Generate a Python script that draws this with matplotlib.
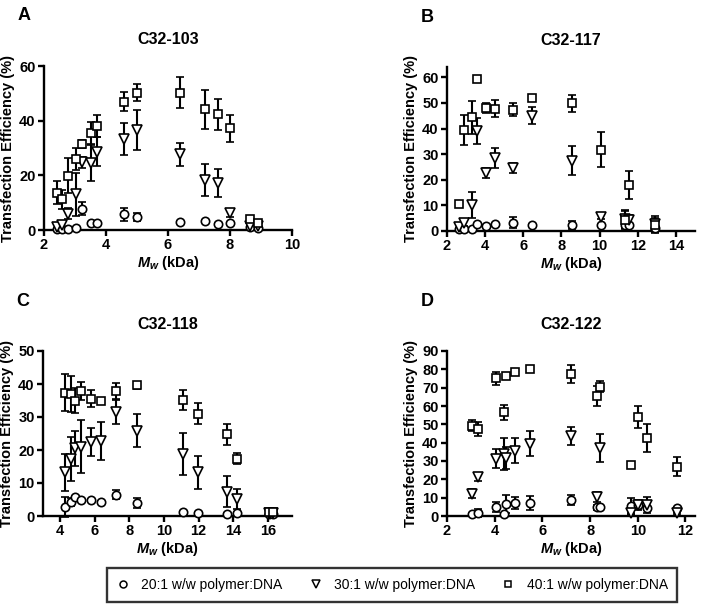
import matplotlib
matplotlib.use("Agg")
import matplotlib.pyplot as plt
from matplotlib.lines import Line2D
import numpy as np

plt.rcParams['font.family'] = ['Liberation Sans', 'DejaVu Sans']
plt.rcParams['mathtext.fontset'] = 'custom'
plt.rcParams['mathtext.it'] = 'Liberation Sans:italic:bold'
plt.rcParams['mathtext.rm'] = 'Liberation Sans:bold'

series_labels = ["20:1 w/w polymer:DNA", "30:1 w/w polymer:DNA", "40:1 w/w polymer:DNA"]

# Panel A: C32-103
a_x = [2.42, 2.59, 2.77, 3.02, 3.22, 3.53, 3.71, 4.58, 5.0, 6.4, 7.2, 7.62, 7.99, 8.66, 8.9]
a_20 = [0.3, 0.5, 0.5, 0.8, 7.8, 2.7, 2.4, 5.7, 4.8, 3.1, 3.4, 2.1, 2.4, 1.2, 0.9]
a_20e = [0.2, 0.2, 0.2, 0.3, 2.3, 0.3, 0.3, 2.5, 1.4, 0.3, 0.3, 0.3, 0.3, 0.3, 0.3]
a_30 = [1.2, 1.8, 6.0, 13.0, 24.8, 24.5, 28.7, 33.2, 36.6, 27.7, 18.3, 17.3, 6.3, 1.5, 1.5]
a_30e = [0.5, 1.0, 2.0, 8.0, 2.0, 6.5, 5.3, 5.8, 7.2, 4.3, 5.8, 5.2, 1.5, 0.5, 0.5]
a_40 = [13.7, 11.3, 19.9, 25.9, 31.5, 35.6, 38.0, 47.0, 50.2, 50.2, 44.1, 42.4, 37.2, 4.0, 2.7]
a_40e = [4.2, 3.5, 6.4, 4.0, 1.5, 4.0, 4.0, 3.4, 3.1, 5.6, 7.3, 5.7, 4.9, 1.0, 1.0]

# Panel B: C32-117
b_x = [2.64, 2.89, 3.3, 3.55, 4.05, 4.54, 5.48, 6.43, 8.56, 10.05, 11.34, 11.53, 12.9]
b_20 = [0.6, 0.8, 0.6, 2.6, 2.0, 2.6, 3.3, 2.3, 2.3, 2.3, 2.2, 2.3, 1.0]
b_20e = [0.2, 0.2, 0.2, 0.3, 0.3, 0.5, 2.3, 0.3, 1.5, 0.3, 0.3, 0.3, 0.5]
b_30 = [1.7, 3.3, 10.2, 39.0, 22.7, 28.4, 24.6, 45.0, 27.5, 5.6, 4.6, 4.3, 2.7]
b_30e = [0.5, 1.5, 5.0, 5.0, 2.0, 4.0, 2.0, 3.4, 5.5, 1.0, 3.5, 2.0, 3.0]
b_40 = [10.6, 39.3, 44.3, 59.4, 48.0, 47.8, 47.3, 51.9, 49.8, 31.8, 4.3, 18.0, 2.2]
b_40e = [1.0, 5.9, 6.6, 0.5, 2.0, 3.4, 2.5, 1.0, 3.2, 6.8, 3.5, 5.6, 3.0]

# Panel C: C32-118
c_x = [4.29, 4.62, 4.87, 5.18, 5.77, 6.35, 7.22, 8.44, 11.1, 11.99, 13.65, 14.24, 16.06, 16.3]
c_20 = [2.8, 4.3, 5.8, 4.8, 4.8, 4.3, 6.5, 4.0, 1.1, 0.8, 0.5, 0.8, 0.6, 0.7]
c_20e = [3.0, 1.3, 0.3, 0.3, 0.3, 0.3, 1.3, 1.5, 0.3, 0.3, 0.3, 0.3, 0.2, 0.2]
c_30 = [13.2, 17.2, 20.5, 21.0, 22.5, 22.7, 31.6, 25.8, 18.8, 13.2, 7.4, 5.1, 0.8, 0.8]
c_30e = [5.7, 6.6, 5.3, 8.0, 4.3, 5.8, 3.8, 5.0, 6.3, 5.1, 4.8, 3.1, 0.3, 0.3]
c_40 = [37.3, 36.9, 34.9, 37.9, 35.6, 34.9, 37.8, 39.6, 35.1, 31.0, 24.7, 17.4, 1.1, 1.1]
c_40e = [5.6, 5.5, 3.8, 2.7, 2.7, 0.5, 2.6, 1.0, 3.0, 3.2, 3.1, 1.7, 0.3, 0.3]

# Panel D: C32-122
d_x = [3.03, 3.31, 4.06, 4.38, 4.48, 4.86, 5.46, 7.18, 8.3, 8.42, 9.7, 10.03, 10.37, 11.65]
d_20 = [0.9, 1.6, 4.9, 0.9, 6.3, 7.1, 7.1, 8.9, 4.7, 4.7, 5.6, 6.0, 4.2, 4.5]
d_20e = [0.5, 2.4, 2.7, 0.5, 4.9, 3.4, 3.9, 2.8, 1.5, 1.5, 4.3, 1.5, 1.0, 0.5]
d_30 = [12.1, 21.2, 31.2, 33.9, 31.7, 35.7, 39.3, 43.8, 10.2, 36.9, 1.5, 6.0, 6.0, 1.5]
d_30e = [2.5, 2.2, 5.2, 8.6, 5.9, 6.8, 6.8, 4.8, 2.8, 7.7, 0.5, 2.5, 4.3, 0.5]
d_40 = [49.1, 47.5, 75.2, 56.5, 76.6, 78.8, 80.1, 77.4, 65.5, 70.5, 27.8, 54.2, 42.7, 26.9]
d_40e = [3.0, 4.0, 3.5, 4.2, 1.2, 1.0, 0.8, 4.9, 5.5, 3.0, 1.5, 6.0, 7.7, 5.2]

panels = [
    dict(letter="A", title="C32-103", x=a_x, ys=[(a_20, a_20e), (a_30, a_30e), (a_40, a_40e)],
         xlim=(2, 10), xticks=[2, 4, 6, 8, 10], ylim=(0, 60), yticks=[0, 20, 40, 60],
         rect=(44, 230, 292, 66)),
    dict(letter="B", title="C32-117", x=b_x, ys=[(b_20, b_20e), (b_30, b_30e), (b_40, b_40e)],
         xlim=(2, 15), xticks=[2, 4, 6, 8, 10, 12, 14], ylim=(0, 64), yticks=[0, 10, 20, 30, 40, 50, 60],
         rect=(447, 231, 695, 67)),
    dict(letter="C", title="C32-118", x=c_x, ys=[(c_20, c_20e), (c_30, c_30e), (c_40, c_40e)],
         xlim=(3, 17.4), xticks=[4, 6, 8, 10, 12, 14, 16], ylim=(0, 50), yticks=[0, 10, 20, 30, 40, 50],
         rect=(43, 516, 292, 351)),
    dict(letter="D", title="C32-122", x=d_x, ys=[(d_20, d_20e), (d_30, d_30e), (d_40, d_40e)],
         xlim=(2, 12.4), xticks=[2, 4, 6, 8, 10, 12], ylim=(0, 90), yticks=list(range(0, 91, 10)),
         rect=(447, 516, 695, 351)),
]

markers = ['o', 'v', 's']
W, H = 704, 611
fig = plt.figure(figsize=(W / 100, H / 100), dpi=100)

for p in panels:
    l, b, r, t = p["rect"]
    ax = fig.add_axes([l / W, 1 - b / H, (r - l) / W, (b - t) / H])
    for (y, e), m in zip(p["ys"], markers):
        ax.errorbar(p["x"], y, yerr=e, fmt=m, ms=6 if m != 'v' else 6.5,
                    mfc='white', mec='black', mew=1.2, ecolor='black',
                    elinewidth=1.5, capsize=3.2, capthick=1.5, clip_on=False, zorder=3)
    ax.set_xlim(*p["xlim"])
    ax.set_ylim(*p["ylim"])
    ax.set_xticks(p["xticks"])
    ax.set_yticks(p["yticks"])
    for s in ['top', 'right']:
        ax.spines[s].set_visible(False)
    for s in ['left', 'bottom']:
        ax.spines[s].set_linewidth(1.7)
    ax.tick_params(direction='out', width=1.7, length=4, labelsize=10.5, pad=2)
    for lab in ax.get_xticklabels() + ax.get_yticklabels():
        lab.set_fontweight('bold')
    ax.set_xlabel(r"$M_w$ (kDa)", fontsize=10.5, fontweight='bold', labelpad=1)
    ax.set_ylabel("Transfection Efficiency (%)", fontsize=10.5, fontweight='bold', labelpad=3)
    ax.set_title(p["title"], fontsize=11.5, fontweight='bold', pad=16)
    fig.text((l - 20) / W, 1 - (t - 50) / H, p["letter"], fontsize=13, fontweight='bold',
             ha='center', va='center')

handles = [Line2D([], [], ls='none', marker=m, ms=5 if m != 'v' else 5.5, mfc='white', mec='black', mew=1.1)
           for m in markers]
leg = fig.legend(handles, series_labels, loc='center', bbox_to_anchor=(392 / W, 1 - 585 / H),
                 ncol=3, fontsize=10, frameon=True, fancybox=False, edgecolor='black',
                 columnspacing=1.9, handletextpad=0.8, borderpad=0.7, handlelength=1.0)
leg.get_frame().set_linewidth(1.7)

fig.savefig("out.png", dpi=100)
